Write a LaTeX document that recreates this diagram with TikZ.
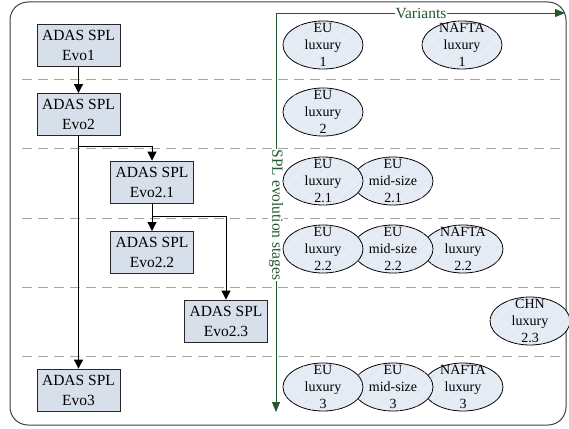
\documentclass[tikz,border=0pt]{standalone}
\usepackage{fontspec}
\setmainfont{Liberation Serif}
\usepackage{tikz}
\usetikzlibrary{arrows.meta,patterns.meta,shapes.geometric}
\definecolor{evofill}{HTML}{D6DFEA}
\definecolor{varfill}{HTML}{E6ECF6}
\definecolor{axgreen}{HTML}{22582D}
\definecolor{sepgray}{HTML}{A3A3A3}

\begin{document}
\begin{tikzpicture}[x=1pt, y=-1pt,
  evo/.style={draw=black!85, line width=0.8pt, fill=evofill, minimum width=83pt, minimum height=42pt, inner sep=0pt, align=center, font=\fontsize{15.5}{20}\selectfont},
  variant/.style={ellipse, draw=black, line width=0.8pt, fill=varfill, postaction={pattern={Lines[angle=45,distance=9pt,line width=0.3pt]}, pattern color=black!12}, minimum width=80pt, minimum height=48pt, inner xsep=0pt, inner ysep=-8pt, align=center, font=\fontsize{14}{17}\selectfont},
  flow/.style={line width=0.8pt, -{Triangle[length=9pt,width=9pt]}},
  axis/.style={draw=axgreen, line width=0.8pt},
  axlabel/.style={fill=white, text=axgreen, inner sep=1pt, font=\fontsize{15.5}{18}\selectfont}]
  \useasboundingbox (0,0) rectangle (569,428);
  \draw[black!75, line width=1pt, rounded corners=18pt] (10,2) rectangle (566,425);

  % stage separators
  \foreach \y in {79,148,218,287,356}
    \draw[sepgray, line width=1pt, dash pattern=on 10pt off 6pt] (22,\y) -- (566,\y);

  % evolution of the product line
  \node[evo] (evo1) at (78.5,45) {ADAS SPL\\Evo1};
  \node[evo] (evo2) at (78.5,114.5) {ADAS SPL\\Evo2};
  \node[evo] (evo21) at (152,182) {ADAS SPL\\Evo2.1};
  \node[evo] (evo22) at (152,252.5) {ADAS SPL\\Evo2.2};
  \node[evo] (evo23) at (226,321) {ADAS SPL\\Evo2.3};
  \node[evo] (evo3) at (78.5,390) {ADAS SPL\\Evo3};

  \draw[flow] (evo1) -- (evo2);
  \draw[flow] (evo2) -- (evo3);
  \draw[flow] (evo2.south) |- ([yshift=14pt]evo21.north) -- (evo21.north);
  \draw[flow] (evo21) -- (evo22);
  \draw[flow] (evo21.south) |- ([yshift=15pt]evo22.north -| evo23.north) -- (evo23.north);

  % axes
  \coordinate (corner) at (276,13);
  \coordinate (stagesend) at (276,412);
  \coordinate (variantsend) at (565,13);
  \draw[axis, {Triangle[length=10pt,width=8pt]}-{Triangle[length=10pt,width=8pt]}] (stagesend) -- (corner) -- (variantsend);
  \node[axlabel] (variants) at (421,13) {Variants};
  \node[axlabel, rotate=-90] (stages) at (276,215) {SPL evolution stages};

  % variants per stage
  \node[variant] (nafta1) at (462,45) {NAFTA\\luxury\\1};
  \node[variant] (eulux1) at (323,45) {EU\\luxury\\1};
  \node[variant] (eulux2) at (323,112) {EU\\luxury\\2};
  \node[variant] (eumid21) at (393,181) {EU\\mid-size\\2.1};
  \node[variant] (eulux21) at (323,181) {EU\\luxury\\2.1};
  \node[variant] (nafta22) at (463,249) {NAFTA\\luxury\\2.2};
  \node[variant] (eumid22) at (393,249) {EU\\mid-size\\2.2};
  \node[variant] (eulux22) at (323,249) {EU\\luxury\\2.2};
  \node[variant] (chn23) at (530,321) {CHN\\luxury\\2.3};
  \node[variant] (nafta3) at (463,387) {NAFTA\\luxury\\3};
  \node[variant] (eumid3) at (393,387) {EU\\mid-size\\3};
  \node[variant] (eulux3) at (323,387) {EU\\luxury\\3};
\end{tikzpicture}
\end{document}
